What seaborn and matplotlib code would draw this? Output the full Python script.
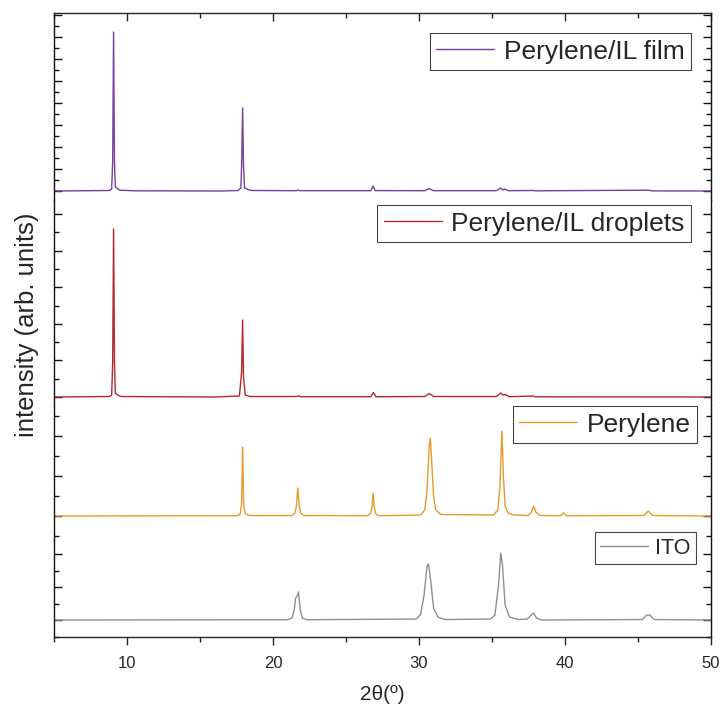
"""
XRD patterns: Perylene/IL film, Perylene/IL droplets, Perylene, ITO
Stacked panels sharing the 2θ axis.
"""

import matplotlib
matplotlib.use("Agg")
import matplotlib.pyplot as plt
from matplotlib.ticker import MultipleLocator, NullFormatter
import seaborn as sns

# ─────────────────────────────────────────────
# DATA (arb. units, baseline = 0)
# ─────────────────────────────────────────────

film_2theta = [5.0, 8.8, 8.95, 9.02, 9.08, 9.14, 9.2, 9.35, 9.5, 10.5, 16.5,
               17.6, 17.8, 17.86, 17.92, 17.98, 18.05, 18.3, 18.5, 21.6, 21.7,
               21.8, 26.7, 26.85, 27.0, 30.4, 30.7, 31.0, 35.3, 35.6, 35.75,
               35.9, 36.1, 37.8, 38.0, 45.7, 46.0, 50.0]
film_int = [0, 0.5, 2, 30, 159, 30, 4, 2.5, 0.8, 0.2, 0,
            0.5, 3, 30, 83, 25, 3, 1.5, 0.5, 0.3, 1,
            0.3, 0.3, 5, 0.4, 0.3, 2.5, 0.3, 0.3, 3, 1,
            2, 0.3, 0.5, 0.2, 0.8, 0.1, 0]

drop_2theta = [5.0, 8.8, 8.95, 9.02, 9.08, 9.14, 9.2, 9.4, 9.6, 16.0,
               17.7, 17.85, 17.92, 17.98, 18.1, 18.4, 21.6, 21.75, 21.9,
               26.7, 26.88, 27.05, 30.4, 30.7, 31.0, 35.3, 35.6, 35.75,
               35.9, 36.2, 37.8, 38.0, 50.0]
drop_int = [0, 0.5, 2, 35, 168, 35, 4, 1.5, 0.5, 0,
            1, 25, 77, 20, 2, 0.5, 0.5, 1.2, 0.3,
            0.3, 4.5, 0.3, 0.5, 3.5, 0.5, 0.5, 4, 2,
            2.5, 0.3, 1, 0.2, 0]

pery_2theta = [5.0, 17.5, 17.75, 17.85, 17.92, 17.99, 18.1, 18.4, 21.3, 21.5,
               21.6, 21.7, 21.8, 21.9, 22.1, 26.5, 26.7, 26.78, 26.86, 26.94,
               27.05, 27.3, 30.1, 30.4, 30.55, 30.7, 30.78, 30.85, 31.0, 31.15,
               31.5, 35.1, 35.4, 35.55, 35.68, 35.78, 35.9, 36.1, 36.5, 37.5,
               37.7, 37.85, 38.0, 38.3, 39.7, 39.9, 40.1, 45.4, 45.7, 46.0,
               50.0]
pery_int = [0, 0.3, 2, 12, 69, 12, 2, 0.5, 0.5, 3,
            10, 28, 10, 3, 0.5, 0.3, 3, 9, 23, 8,
            2, 0.3, 1, 6, 25, 70, 78, 60, 20, 6,
            1.5, 1, 6, 30, 85, 40, 10, 3, 1, 0.5,
            4, 10, 4, 0.5, 0.3, 3, 0.3, 0.5, 5, 0.5,
            0]

ito_2theta = [5.0, 21.0, 21.3, 21.45, 21.55, 21.65, 21.75, 21.85, 22.0, 22.3,
              29.8, 30.1, 30.35, 30.55, 30.65, 30.8, 31.0, 31.3, 31.8, 34.9,
              35.2, 35.45, 35.6, 35.72, 35.9, 36.2, 36.8, 37.4, 37.7, 37.85,
              38.05, 38.4, 45.3, 45.6, 45.8, 46.1, 50.0]
ito_int = [0, 0.3, 2, 10, 22, 24, 28, 12, 2, 0.3,
           1, 5, 25, 54, 56, 40, 12, 3, 0.5, 1,
           5, 35, 67, 55, 15, 3, 0.5, 1, 5, 7,
           2, 0, 0.5, 5, 5, 0.5, 0]

labels = ["Perylene/IL film", "Perylene/IL droplets", "Perylene", "ITO"]
colors = ["#7a3f98", "#b5262e", "#e69a2e", "#8f8f8f"]

# ─────────────────────────────────────────────
# FIGURE
# ─────────────────────────────────────────────

sns.set_style("ticks")
plt.rcParams["font.family"] = ["Liberation Sans", "DejaVu Sans"]

series = [(film_2theta, film_int), (drop_2theta, drop_int),
          (pery_2theta, pery_int), (ito_2theta, ito_int)]
ylims = [(-9, 178), (-8, 197), (-24, 111), (-17, 80)]
y_major = [22, 36.6, 40, 33]
legend_anchor = [(0.9696, 0.893), (0.9696, 0.976), (0.979, 0.993), (0.977, 1.08)]
legend_size = [19, 19, 19, 15.5]

fig, axes = plt.subplots(
    4, 1, figsize=(7.24, 7.06), dpi=100, sharex=True,
    gridspec_kw={"height_ratios": [187, 205, 135, 97], "hspace": 0},
)
fig.subplots_adjust(left=0.0746, right=0.982, top=0.9816, bottom=0.0977)

for i, ax in enumerate(axes):
    x, y = series[i]
    sns.lineplot(x=x, y=y, ax=ax, color=colors[i], linewidth=1.0,
                 label=labels[i], estimator=None)
    ax.set_xlim(5, 50)
    ax.set_ylim(*ylims[i])

    ax.yaxis.set_major_locator(MultipleLocator(y_major[i]))
    ax.yaxis.set_minor_locator(MultipleLocator(y_major[i] / 2))
    ax.yaxis.set_major_formatter(NullFormatter())
    ax.tick_params(axis="y", which="both", direction="in", left=True,
                   right=True, labelleft=False, width=1.0, color="#111111")
    ax.tick_params(axis="y", which="major", length=6)
    ax.tick_params(axis="y", which="minor", length=3.5)
    ax.set_ylabel("")

    for side in ["left", "right"]:
        ax.spines[side].set_linewidth(1.0)
        ax.spines[side].set_color("#111111")
        ax.spines[side].set_visible(True)
    ax.spines["top"].set_visible(i == 0)
    ax.spines["bottom"].set_visible(i == 3)

    leg = ax.legend(loc="upper right", bbox_to_anchor=legend_anchor[i],
                    borderaxespad=0, frameon=True, fancybox=False,
                    framealpha=1, edgecolor="#444444",
                    fontsize=legend_size[i], handlelength=2.2,
                    handletextpad=0.35, borderpad=0.25)
    leg.get_frame().set_linewidth(0.8)

# x axis: ticks inward on top, outward on bottom
axes[0].xaxis.set_major_locator(MultipleLocator(10))
axes[0].xaxis.set_minor_locator(MultipleLocator(5))
for ax in axes[:-1]:
    ax.tick_params(axis="x", which="both", bottom=False, labelbottom=False)
axes[0].spines["top"].set_linewidth(1.0)
axes[0].tick_params(axis="x", which="both", top=True, direction="in",
                    labeltop=False, width=1.0)
axes[0].tick_params(axis="x", which="major", length=6)
axes[0].tick_params(axis="x", which="minor", length=3.5)

axes[-1].spines["bottom"].set_linewidth(1.0)
axes[-1].tick_params(axis="x", which="both", bottom=True, direction="out",
                     width=1.0, labelsize=12, pad=8)
axes[-1].tick_params(axis="x", which="major", length=6)
axes[-1].tick_params(axis="x", which="minor", length=3.5)
axes[-1].set_xlabel("2θ(º)", fontsize=15, labelpad=10)

fig.text(0.037, 0.54, "intensity (arb. units)", rotation=90,
         ha="center", va="center", fontsize=18.5)

plt.savefig("out.png", dpi=100)
plt.close()
